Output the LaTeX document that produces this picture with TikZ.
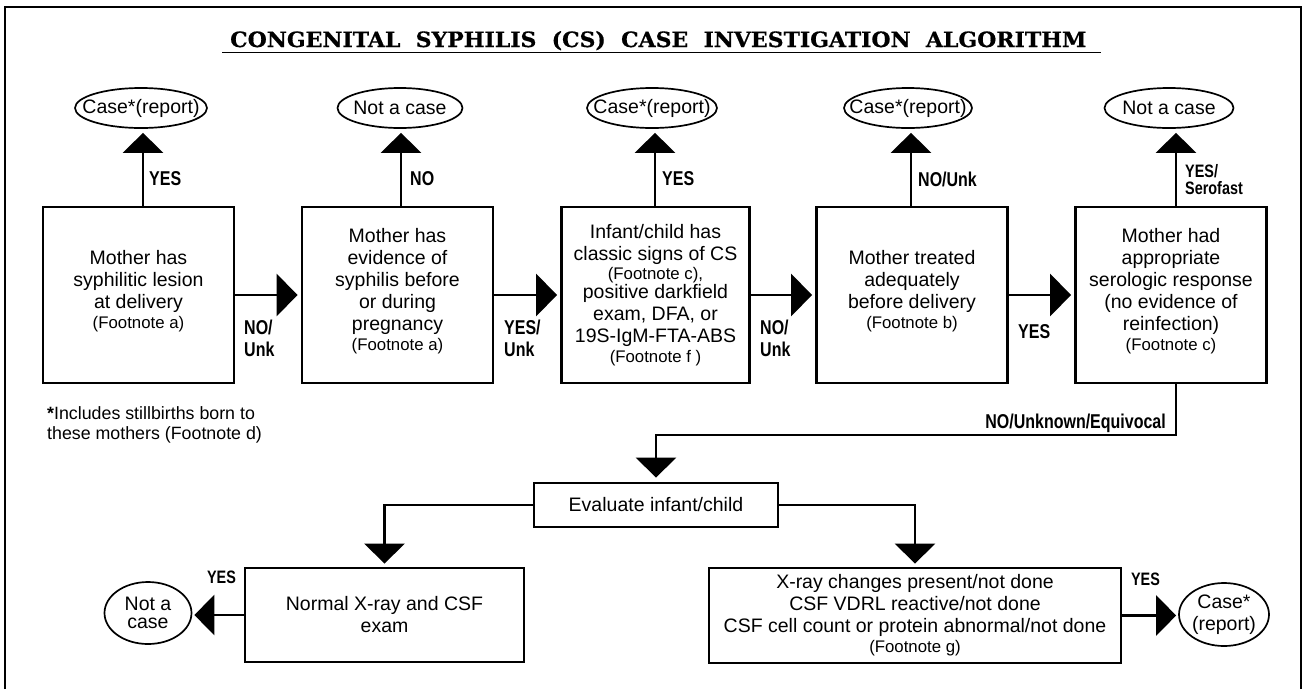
\documentclass[tikz,border=0pt]{standalone}
\usepackage{fontspec}
\usepackage{graphicx}
\setmainfont{Liberation Sans}
\newfontfamily\condfont{Liberation Sans}[FakeStretch=0.8]
\newfontfamily\titlefont{DejaVu Serif}[BoldFeatures={FakeBold=0.6}]
\usetikzlibrary{arrows.meta,shapes.geometric}
\newcommand\footn{\fontsize{16.8}{18}\selectfont}
\begin{document}
\begin{tikzpicture}[x=1pt,y=-1pt,
  box/.style={draw,line width=2.8pt,minimum width=191pt,minimum height=176pt,inner sep=0pt},
  txt/.style={align=center,font=\fontsize{19.5}{22}\selectfont,inner sep=0pt},
  oval/.style={draw,ellipse,line width=1.7pt,inner sep=0pt},
  lab/.style={font=\condfont\bfseries\fontsize{20}{22}\selectfont,inner sep=0pt,align=left},
  slab/.style={font=\condfont\bfseries\fontsize{18}{17}\selectfont,inner sep=0pt,align=left},
  arr/.style={line width=2.8pt,-{Triangle[width=40pt,length=20pt]}},
  harr/.style={line width=2.8pt,-{Triangle[width=42pt,length=21pt]}},
]
\fill[white] (0,0) rectangle (1309,689);
\useasboundingbox (0,0) rectangle (1309,689);
% frame
\draw[line width=2.8pt] (5,689) -- (5,7) -- (1301,7) -- (1301,689);
% title
\node[anchor=base west,inner sep=0pt] (title) at (230,47)
  {\resizebox{856pt}{16pt}{\titlefont\bfseries CONGENITAL\ \ SYPHILIS\ \ (CS)\ \ CASE\ \ INVESTIGATION\ \ ALGORITHM}};
\draw[line width=1.7pt] (222,52.5) -- (1101,52.5);

% top row boxes
\node[box] (b1) at (138.5,295) {};
\node[box] (b2) at (397.5,295) {};
\node[box,minimum width=188pt] (b3) at (655.5,295) {};
\node[box] (b4) at (912,295) {};
\node[box] (b5) at (1171,295) {};

\node[txt] (tx1) at ([yshift=4pt]b1.center) {Mother has\\syphilitic lesion\\at delivery\\[-2pt]{\footn (Footnote a)}};
\node[txt] (tx2) at ([yshift=4pt]b2.center) {Mother has\\evidence of\\syphilis before\\or during\\pregnancy\\[-2pt]{\footn (Footnote a)}};
\node[txt] (tx3) at (b3.center) {Infant/child has\\classic signs of CS\\[-3pt]{\footn (Footnote c),}\\[-3pt]positive darkfield\\exam, DFA, or\\19S-IgM-FTA-ABS\\[-2pt]{\footn (Footnote f )}};
\node[txt] (tx4) at ([yshift=4pt]b4.center) {Mother treated\\adequately\\before delivery\\[-2pt]{\footn (Footnote b)}};
\node[txt] (tx5) at ([yshift=4pt]b5.center) {Mother had\\appropriate\\serologic response\\(no evidence of\\reinfection)\\[-2pt]{\footn (Footnote c)}};

% top ovals
\node[oval,minimum width=132pt,minimum height=40pt] (e1) at (141,108) {};
\node[oval,minimum width=125pt,minimum height=40pt] (e2) at (400,108) {};
\node[oval,minimum width=130pt,minimum height=40pt] (e3) at (652,108) {};
\node[oval,minimum width=128pt,minimum height=40pt] (e4) at (908,108) {};
\node[oval,minimum width=129pt,minimum height=40pt] (e5) at (1169,108) {};
\node[txt] (et1) at (e1) {Case*(report)};
\node[txt] (et2) at (e2) {Not a case};
\node[txt] (et3) at (e3) {Case*(report)};
\node[txt] (et4) at (e4) {Case*(report)};
\node[txt] (et5) at (e5) {Not a case};

% top arrows
\coordinate (t1) at (143,207);
\coordinate (t2) at (401,207);
\coordinate (t3) at (655,207);
\coordinate (t4) at (911,207);
\coordinate (t5) at (1176,207);
\draw[arr,shorten >=4pt] (t1) -- (t1 |- e1.south);
\draw[arr,shorten >=4pt] (t2) -- (t2 |- e2.south);
\draw[arr,shorten >=4pt] (t3) -- (t3 |- e3.south);
\draw[arr,shorten >=4pt] (t4) -- (t4 |- e4.south);
\draw[arr,shorten >=4pt] (t5) -- (t5 |- e5.south);
\node[lab,anchor=west] (l1) at (149,179) {YES};
\node[lab,anchor=west] (l2) at (410,179) {NO};
\node[lab,anchor=west] (l3) at (662,179) {YES};
\node[lab,anchor=west] (l4) at (918,179) {NO/Unk};
\node[slab,anchor=west] (l5) at (1185,180) {YES/\\Serofast};

% horizontal arrows
\draw[harr,shorten >=3pt] (b1.east) -- (b2.west);
\draw[harr,shorten >=3pt] (b2.east) -- (b3.west);
\draw[harr,shorten >=3pt] (b3.east) -- (b4.west);
\draw[harr,shorten >=3pt] (b4.east) -- (b5.west);
\node[lab,anchor=north west] (h1) at (244,320) {NO/\\Unk};
\node[lab,anchor=north west] (h2) at (504,320) {YES/\\Unk};
\node[lab,anchor=north west] (h3) at (760,320) {NO/\\Unk};
\node[lab,anchor=west] (h4) at (1018,332) {YES};

% footnote
\node[anchor=north west,align=left,inner sep=0pt,font=\fontsize{17.8}{20}\selectfont] (fn) at (47,406)
  {\textbf{*}Includes stillbirths born to\\these mothers (Footnote d)};

% evaluate
\node[draw,line width=2.8pt,minimum width=244pt,minimum height=44pt,inner sep=0pt,font=\fontsize{19.5}{22}\selectfont] (ev) at (656,505) {Evaluate infant/child};
\coordinate (t5b) at (1176,383);
\coordinate (k1) at (656,435);
\draw[arr,shorten >=4pt] (t5b) |- (k1) -- (ev.north);
\node[lab,anchor=base east] (l6) at (1166,428) {NO/Unknown/Equivocal};

% bottom boxes
\node[draw,line width=2.8pt,minimum width=279pt,minimum height=94pt,inner sep=0pt,align=center,font=\fontsize{19.5}{22}\selectfont] (nb) at (384.5,615) {Normal X-ray and CSF\\exam};
\node[draw,line width=2.8pt,minimum width=412pt,minimum height=95pt,inner sep=0pt,align=center,font=\fontsize{19.5}{22}\selectfont] (xb) at (915,615.5)
  {X-ray changes present/not done\\CSF VDRL reactive/not done\\CSF cell count or protein abnormal/not done\\[-2pt]{\footn (Footnote g)}};
\draw[arr,shorten >=3pt] (ev.west) -| (nb.north);
\draw[arr,shorten >=3pt] (ev.east) -| (xb.north);

% bottom ovals
\node[oval,minimum width=87pt,minimum height=62pt] (nc) at (148,613) {};
\node[align=center,inner sep=0pt,font=\fontsize{19.5}{18}\selectfont] (nct) at (nc) {Not a\\case};
\node[oval,minimum width=90pt,minimum height=63pt] (cc) at (1224,614.5) {};
\node[txt] (cct) at (cc) {Case*\\(report)};
\draw[arr,shorten >=2pt] (nb.west) -- (nb.west -| nc.east);
\draw[arr,shorten >=2pt] (xb.east) -- (xb.east -| cc.west);
\node[slab] (y1) at (221.5,577) {YES};
\node[slab] (y2) at (1145.5,579) {YES};
\end{tikzpicture}
\end{document}
